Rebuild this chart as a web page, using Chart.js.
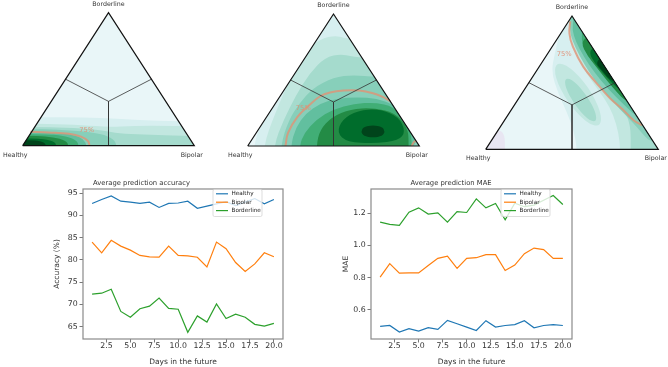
<!DOCTYPE html>
<html>
<head>
<meta charset="utf-8">
<script src="https://cdn.jsdelivr.net/npm/chart.js@4.4.1/dist/chart.umd.min.js"></script>
<style>
  html, body { margin: 0; padding: 0; background: #fff; }
  #wrap { position: relative; width: 668px; height: 367px; overflow: hidden; }
  canvas { position: absolute; }
</style>
</head>
<body>
<div id="wrap">
  <canvas id="tri1" width="222" height="168" style="left:0;top:0"></canvas>
  <canvas id="tri2" width="222" height="168" style="left:222px;top:0"></canvas>
  <canvas id="tri3" width="224" height="168" style="left:444px;top:0"></canvas>
  <canvas id="acc" width="320" height="197" style="left:0;top:170px"></canvas>
  <canvas id="mae" width="338" height="197" style="left:330px;top:170px"></canvas>
</div>
<script>
// ---- line charts ----
const days = [1, 2, 3, 4, 5, 6, 7, 8, 9, 10, 11, 12, 13, 14, 15, 16, 17, 18, 19, 20];
const seriesNames = ["Healthy", "Bipolar", "Borderline"];

const accHealthy = [92.7, 93.6, 94.4, 93.2, 93.0, 92.7, 93.0, 91.8, 92.7, 92.8, 93.2, 91.6, 92.1, 92.6, 93.1, 92.2, 93.0, 93.8, 92.6, 93.6];
const accBipolar = [84.0, 81.6, 84.4, 83.1, 82.2, 81.0, 80.7, 80.6, 83.1, 81.0, 80.9, 80.6, 78.4, 84.0, 82.5, 79.4, 77.4, 79.1, 81.6, 80.7];
const accBorderline = [72.3, 72.5, 73.4, 68.4, 67.1, 69.0, 69.6, 71.4, 69.1, 68.9, 63.7, 67.4, 66.0, 70.1, 66.8, 67.8, 67.1, 65.5, 65.1, 65.7];

const maeHealthy = [0.496, 0.502, 0.461, 0.482, 0.467, 0.488, 0.478, 0.534, 0.513, 0.492, 0.471, 0.532, 0.492, 0.502, 0.507, 0.532, 0.488, 0.502, 0.507, 0.502];
const maeBipolar = [0.802, 0.886, 0.827, 0.829, 0.829, 0.875, 0.919, 0.933, 0.857, 0.919, 0.923, 0.942, 0.942, 0.844, 0.877, 0.948, 0.983, 0.973, 0.919, 0.919];
const maeBorderline = [1.144, 1.130, 1.124, 1.206, 1.233, 1.194, 1.202, 1.144, 1.209, 1.204, 1.289, 1.233, 1.260, 1.159, 1.262, 1.240, 1.250, 1.280, 1.310, 1.254];

const xTicks = [2.5, 5, 7.5, 10, 12.5, 15, 17.5, 20];
const accTicks = [65, 70, 75, 80, 85, 90, 95];
const maeTicks = [0.6, 0.8, 1.0, 1.2];

// ---- ternary density plots, points are [u, v]: u across the base (Healthy -> Bipolar), v up to Borderline ----
const triangle = [[0, 0], [1, 0], [0.5, 1]];
const centroid = [0.5, 1 / 3];
const edgeMids = [[0.25, 0.5], [0.75, 0.5], [0.5, 0]];

const tri1Bands = [
  [[-0.3, -0.3], [1.4, -0.3], [1.4, 0.18], [0.85, 0.185], [0.65, 0.195], [0.45, 0.21], [0.25, 0.215], [-0.3, 0.21]],
  [[-0.3, -0.3], [1.4, -0.3], [1.4, 0.14], [0.85, 0.15], [0.65, 0.15], [0.5, 0.14], [0.35, 0.155], [0.15, 0.165], [-0.3, 0.17]],
  [[-0.3, -0.3], [1.4, -0.3], [1.4, 0.065], [0.88, 0.075], [0.7, 0.085], [0.56, 0.09], [0.47, 0.115], [0.3, 0.135], [0.1, 0.14], [-0.3, 0.14]],
  [[-0.3, -0.3], [0.56, -0.3], [0.55, 0.0], [0.53, 0.05], [0.46, 0.09], [0.3, 0.115], [0.1, 0.125], [-0.3, 0.125]],
  [[-0.3, -0.3], [0.375, -0.3], [0.375, 0.0], [0.355, 0.05], [0.3, 0.08], [0.2, 0.095], [0.05, 0.1], [-0.3, 0.1]],
  [[-0.3, -0.3], [0.33, -0.3], [0.33, 0.0], [0.31, 0.045], [0.24, 0.075], [0.12, 0.088], [-0.3, 0.09]],
  [[-0.3, -0.3], [0.27, -0.3], [0.27, 0.0], [0.25, 0.04], [0.18, 0.065], [0.08, 0.075], [-0.3, 0.075]],
  [[-0.3, -0.3], [0.2, -0.3], [0.2, 0.0], [0.18, 0.035], [0.1, 0.055], [-0.3, 0.06]],
  [[-0.3, -0.3], [0.14, -0.3], [0.14, 0.0], [0.12, 0.03], [0.05, 0.045], [-0.3, 0.045]]
];
const tri1Levels = [1, 2, 3, 4, 5, 6, 7, 8, 9];
const tri1Contour75 = [[0.045, 0.105], [0.15, 0.1], [0.27, 0.09], [0.34, 0.068], [0.38, 0.035], [0.39, 0.0]];

const tri2Bands = [
  [[0.03, -0.3], [0.03, 0.0], [0.1, 0.25], [0.2, 0.55], [0.3, 0.78], [0.42, 0.92], [0.47, 1.0], [0.5, 1.4], [1.4, 1.4], [1.4, -0.3]],
  [[0.09, -0.3], [0.09, 0.0], [0.16, 0.25], [0.26, 0.55], [0.33, 0.71], [0.42, 0.81], [0.52, 0.84], [0.6, 0.8], [1.4, 0.8], [1.4, -0.3]],
  [[0.15, -0.3], [0.15, 0.0], [0.21, 0.2], [0.28, 0.38], [0.36, 0.55], [0.45, 0.67], [0.55, 0.7], [0.66, 0.66], [1.4, 0.66], [1.4, -0.3]],
  [[0.19, -0.3], [0.19, 0.0], [0.24, 0.2], [0.3, 0.32], [0.38, 0.44], [0.5, 0.52], [0.62, 0.54], [0.74, 0.52], [1.4, 0.52], [1.4, -0.3]],
  [[0.25, -0.3], [0.25, 0.0], [0.28, 0.14], [0.34, 0.25], [0.42, 0.32], [0.52, 0.36], [0.64, 0.37], [0.75, 0.36], [0.86, 0.31], [0.93, 0.2], [0.99, 0.05], [0.955, -0.02], [0.95, -0.3]],
  [[0.3, -0.3], [0.3, 0.0], [0.33, 0.1], [0.4, 0.2], [0.5, 0.28], [0.62, 0.32], [0.74, 0.33], [0.85, 0.3], [0.93, 0.18], [0.96, 0.06], [0.95, -0.3]],
  [[0.4, -0.3], [0.4, 0.0], [0.42, 0.12], [0.49, 0.22], [0.6, 0.28], [0.73, 0.29], [0.86, 0.25], [0.93, 0.14], [0.94, 0.04], [0.93, -0.3]],
  [[0.52, 0.1], [0.55, 0.2], [0.64, 0.27], [0.77, 0.28], [0.88, 0.22], [0.92, 0.11], [0.88, 0.04], [0.74, 0.02], [0.58, 0.03]],
  [[0.66, 0.11], [0.675, 0.145], [0.73, 0.158], [0.785, 0.145], [0.8, 0.11], [0.785, 0.075], [0.73, 0.063], [0.675, 0.075]]
];
const tri2Levels = [1, 2, 3, 4, 5, 6, 7, 8, 9];
const tri2Contour75 = [[0.22, 0.0], [0.235, 0.1], [0.29, 0.22], [0.36, 0.31], [0.42, 0.375], [0.48, 0.405], [0.56, 0.42], [0.65, 0.42], [0.73, 0.4], [0.79, 0.37], [0.83, 0.34]];
const tri2Contour75b = [[0.955, 0.0], [0.972, 0.035], [0.983, 0.034]];

const tri3Bands = [
  [[-0.3, -0.3], [0.112, -0.3], [0.112, 0.0], [0.11, 0.11], [0.08, 0.15], [-0.3, 0.15]],
  [[0.43, 1.4], [0.43, 0.88], [0.4, 0.72], [0.38, 0.58], [0.42, 0.42], [0.47, 0.28], [0.51, 0.14], [0.53, 0.0], [0.53, -0.3], [1.4, -0.3], [1.4, 1.4]],
  [[0.48, 1.4], [0.48, 0.92], [0.5, 0.8], [0.54, 0.66], [0.62, 0.5], [0.69, 0.38], [0.74, 0.26], [0.77, 0.12], [0.78, 0.0], [0.78, -0.3], [1.4, -0.3], [1.4, 1.4]],
  [[0.665, 0.165], [0.671, 0.276], [0.597, 0.465], [0.487, 0.622], [0.405, 0.655], [0.399, 0.544], [0.473, 0.355], [0.583, 0.198]],
  [[0.64, 0.2], [0.64, 0.273], [0.587, 0.403], [0.512, 0.513], [0.46, 0.54], [0.46, 0.467], [0.513, 0.337], [0.588, 0.227]],
  [[0.5, 1.4], [0.5, 0.95], [0.52, 0.84], [0.57, 0.69], [0.65, 0.55], [0.73, 0.42], [0.8, 0.3], [0.84, 0.18], [0.84, 0.0], [0.84, -0.3], [1.4, -0.3], [1.4, 1.4]],
  [[0.49, 1.4], [0.485, 0.96], [0.49, 0.86], [0.52, 0.76], [0.57, 0.64], [0.63, 0.52], [0.7, 0.41], [0.77, 0.31], [0.83, 0.23], [0.88, 0.16], [0.92, 0.1], [0.96, 0.05], [1.4, 0.05], [1.4, 1.4]],
  [[0.5, 0.93], [0.51, 0.85], [0.54, 0.76], [0.6, 0.63], [0.67, 0.51], [0.75, 0.4], [0.82, 0.31], [0.88, 0.24], [1.4, 0.24], [1.4, 1.4], [0.55, 1.4]],
  [[0.55, 0.84], [0.57, 0.76], [0.61, 0.67], [0.67, 0.57], [0.73, 0.47], [0.79, 0.39], [0.85, 0.32], [1.4, 0.32], [1.4, 1.4], [0.6, 1.4]],
  [[0.55, 0.8], [0.59, 0.7], [0.64, 0.62], [0.7, 0.52], [0.76, 0.43], [0.81, 0.36], [0.95, 0.33], [0.95, 0.85], [0.6, 0.86]],
  [[0.6, 0.72], [0.63, 0.65], [0.68, 0.57], [0.73, 0.5], [0.78, 0.44], [0.95, 0.42], [0.95, 0.76], [0.62, 0.77]],
  [[0.64, 0.64], [0.67, 0.6], [0.7, 0.55], [0.74, 0.5], [0.95, 0.48], [0.95, 0.7], [0.66, 0.69]]
];
const tri3Levels = [-1, 1, 2, 2, 3, 3, 4, 5, 6, 7, 8, 9];
const tri3Contour75 = [[0.49, 0.96], [0.485, 0.87], [0.505, 0.77], [0.565, 0.62], [0.643, 0.495], [0.72, 0.383], [0.797, 0.295], [0.855, 0.22], [0.905, 0.18]];

const levelLabel = "75%";

// BuGn-like fill colours, index = density level
const palette = ["#e9f6f8", "#d7eff0", "#c2e7e0", "#a5dbcd", "#87cfba", "#62bf9f", "#41ae76", "#238b45", "#006d2c", "#00441b"];
const lowColor = "#e8e6f2";
const contourColor = "rgba(224,146,118,0.8)";
const colors = ["#1f77b4", "#ff7f0e", "#2ca02c"];
const FONT = "'DejaVu Sans', sans-serif";

Chart.defaults.font.family = FONT;
Chart.defaults.animation = false;

function smoothClosed(ctx, pts) {
  const n = pts.length;
  const mid = (a, b) => [(a[0] + b[0]) / 2, (a[1] + b[1]) / 2];
  const start = mid(pts[n - 1], pts[0]);
  ctx.beginPath();
  ctx.moveTo(start[0], start[1]);
  for (let i = 0; i < n; i++) {
    const m = mid(pts[i], pts[(i + 1) % n]);
    ctx.quadraticCurveTo(pts[i][0], pts[i][1], m[0], m[1]);
  }
  ctx.closePath();
}

const ternaryPlugin = {
  id: "ternary",
  beforeDatasetsDraw(chart) {
    const { ctx } = chart;
    const sx = chart.scales.x, sy = chart.scales.y;
    ctx.save();
    ctx.beginPath();
    triangle.forEach(([u, v], i) => {
      const x = sx.getPixelForValue(u), y = sy.getPixelForValue(v);
      i ? ctx.lineTo(x, y) : ctx.moveTo(x, y);
    });
    ctx.closePath();
    ctx.fillStyle = palette[0];
    ctx.fill();
    ctx.clip();
    chart.data.datasets.forEach((ds, i) => {
      if (!ds.bandColor) return;
      const pts = chart.getDatasetMeta(i).data.map((el) => [el.x, el.y]);
      smoothClosed(ctx, pts);
      ctx.fillStyle = ds.bandColor;
      ctx.fill();
    });
    ctx.restore();
  },
  afterDraw(chart, args, opts) {
    const { ctx } = chart;
    const sx = chart.scales.x, sy = chart.scales.y;
    ctx.save();
    ctx.textAlign = "center";
    ctx.textBaseline = "middle";
    ctx.font = "6.7px " + FONT;
    ctx.fillStyle = "rgba(226,140,112,0.9)";
    ctx.fillText(levelLabel, sx.getPixelForValue(opts.labelAt[0]), sy.getPixelForValue(opts.labelAt[1]));
    ctx.font = "6.3px " + FONT;
    ctx.fillStyle = "#333";
    const offs = [[-7.5, 9.5], [-2.5, 9.5], [0, -8.5]];
    const names = ["Healthy", "Bipolar", "Borderline"];
    triangle.forEach(([u, v], i) => {
      ctx.fillText(names[i], sx.getPixelForValue(u) + offs[i][0], sy.getPixelForValue(v) + offs[i][1]);
    });
    ctx.restore();
  }
};

const toXY = (pts) => pts.map(([u, v]) => ({ x: u, y: v }));

function ternary(id, bands, levels, contours, labelAt, padding) {
  const datasets = bands.map((poly, i) => ({
    data: toXY(poly),
    bandColor: levels[i] < 0 ? lowColor : palette[levels[i]],
    showLine: false,
    pointRadius: 0,
    order: 10
  }));
  contours.forEach((c) => datasets.push({
    data: toXY(c), showLine: true, tension: 0.4, borderColor: contourColor,
    borderWidth: 2, pointRadius: 0, order: 3
  }));
  edgeMids.forEach((m) => datasets.push({
    data: toXY([centroid, m]), showLine: true, borderColor: "#333",
    borderWidth: 0.8, pointRadius: 0, order: 2, clip: false
  }));
  datasets.push({
    data: toXY([...triangle, triangle[0]]), showLine: true, borderColor: "#111",
    borderWidth: 1.2, pointRadius: 0, order: 1, clip: false
  });
  new Chart(document.getElementById(id), {
    type: "scatter",
    data: { datasets },
    options: {
      responsive: false,
      layout: { padding },
      scales: {
        x: { type: "linear", min: 0, max: 1, display: false },
        y: { type: "linear", min: 0, max: 1, display: false }
      },
      plugins: { legend: { display: false }, tooltip: { enabled: false }, ternary: { labelAt } }
    },
    plugins: [ternaryPlugin]
  });
}

ternary("tri1", tri1Bands, tri1Levels, [tri1Contour75], [0.373, 0.113],
  { left: 22.7, right: 27.7, top: 12.7, bottom: 22.3 });
ternary("tri2", tri2Bands, tri2Levels, [tri2Contour75, tri2Contour75b], [0.324, 0.286],
  { left: 25.7, right: 24.7, top: 14, bottom: 22 });
ternary("tri3", tri3Bands, tri3Levels, [tri3Contour75], [0.454, 0.715],
  { left: 41.7, right: 9.7, top: 16, bottom: 18.7 });

// ---- line charts ----
const framePlugin = {
  id: "frame",
  afterDatasetsDraw(chart) {
    const { ctx, chartArea: a } = chart;
    ctx.save();
    ctx.strokeStyle = "#8a8a8a";
    ctx.lineWidth = 1.2;
    ctx.strokeRect(a.left, a.top, a.right - a.left, a.bottom - a.top);
    // legend box
    const x = a.left + 130, y = a.top + 0.5, w = 49, h = 27;
    ctx.fillStyle = "rgba(255,255,255,0.8)";
    ctx.strokeStyle = "#d4d4d4";
    ctx.lineWidth = 0.8;
    ctx.beginPath();
    ctx.roundRect(x, y, w, h, 1.5);
    ctx.fill();
    ctx.stroke();
    ctx.font = "5.7px " + FONT;
    ctx.textBaseline = "middle";
    chart.data.datasets.forEach((ds, i) => {
      const ly = y + 4.3 + i * 8.4;
      ctx.strokeStyle = ds.borderColor;
      ctx.lineWidth = 1.2;
      ctx.beginPath();
      ctx.moveTo(x + 3, ly);
      ctx.lineTo(x + 15, ly);
      ctx.stroke();
      ctx.fillStyle = "#222";
      ctx.fillText(ds.label, x + 18.5, ly);
    });
    ctx.restore();
  }
};

function lineChart(id, title, yTitle, series, yMin, yMax, yTicks, yFmt, yWidth, yTitlePad, rightPad) {
  new Chart(document.getElementById(id), {
    type: "line",
    data: {
      datasets: series.map((vals, i) => ({
        label: seriesNames[i],
        data: days.map((d, j) => ({ x: d, y: vals[j] })),
        borderColor: colors[i],
        borderWidth: 1.2,
        pointRadius: 0,
        tension: 0
      }))
    },
    options: {
      responsive: false,
      layout: { padding: { left: 0, right: rightPad, top: 0, bottom: 0 } },
      scales: {
        x: {
          type: "linear", min: 0.05, max: 20.95,
          afterBuildTicks: (s) => { s.ticks = xTicks.map((value) => ({ value })); },
          afterFit: (s) => { s.height = 28; },
          ticks: { callback: (v) => v.toFixed(1), font: { size: 7.8, lineHeight: 1 }, color: "#333", padding: 0, maxRotation: 0, autoSkip: false },
          grid: { drawOnChartArea: false, tickLength: 3.5, color: "#555", lineWidth: 0.8 },
          border: { display: false },
          title: { display: true, text: "Days in the future", font: { size: 7.5, lineHeight: 1.2 }, color: "#333", padding: { top: 0, bottom: 0.8 } }
        },
        y: {
          min: yMin, max: yMax,
          afterBuildTicks: (s) => { s.ticks = yTicks.map((value) => ({ value })); },
          afterFit: (s) => { s.width = yWidth; },
          ticks: { callback: yFmt, font: { size: 7.8, lineHeight: 1 }, color: "#333", padding: 1.8, autoSkip: false },
          grid: { drawOnChartArea: false, tickLength: 3.5, color: "#555", lineWidth: 0.8 },
          border: { display: false },
          title: { display: true, text: yTitle, font: { size: 7.5, lineHeight: 1.2 }, color: "#333", padding: { top: yTitlePad, bottom: 0 } }
        }
      },
      plugins: {
        legend: { display: false },
        tooltip: { enabled: false },
        title: { display: true, text: title, font: { size: 6.8, lineHeight: 1, weight: "normal" }, color: "#333", padding: { top: 10, bottom: 2.2 } }
      }
    },
    plugins: [framePlugin]
  });
}

lineChart("acc", "Average prediction accuracy", "Accuracy (%)",
  [accHealthy, accBipolar, accBorderline], 62.2, 95.95, accTicks, (v) => String(v), 83, 52.2, 37);
lineChart("mae", "Average prediction MAE", "MAE",
  [maeHealthy, maeBipolar, maeBorderline], 0.418, 1.35, maeTicks, (v) => v.toFixed(1), 41, 11.2, 96);
</script>
</body>
</html>
